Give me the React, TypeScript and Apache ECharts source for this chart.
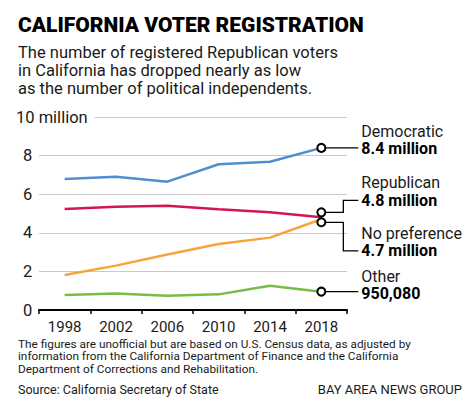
import React, { useEffect, useRef } from 'react';
import * as echarts from 'echarts';

const years = ['1998', '2002', '2006', '2010', '2014', '2018'];
const democratic = [6.79, 6.9, 6.65, 7.55, 7.68, 8.4];
const republican = [5.23, 5.35, 5.4, 5.22, 5.06, 4.8];
const noPreference = [1.81, 2.3, 2.88, 3.42, 3.75, 4.7];
const other = [0.78, 0.86, 0.74, 0.81, 1.26, 0.95];
const seriesNames = ['Democratic', 'Republican', 'No preference', 'Other'];
const endValueLabels = ['8.4 million', '4.8 million', '4.7 million', '950,080'];
const seriesColors = ['#4d8fcf', '#d5164c', '#f7a43c', '#76bd45'];
const yMin = 0;
const yMax = 10;
const yInterval = 2;
const yTopLabel = '10 million';

const titleText = 'CALIFORNIA VOTER REGISTRATION';
const subtitleText =
  'The number of registered Republican voters\nin California has dropped nearly as low\nas the number of political independents.';
const noteText =
  'The figures are unofficial but are based on U.S. Census data, as adjusted by\ninformation from the California Department of Finance and the California\nDepartment of Corrections and Rehabilitation.';
const sourceText = 'Source: California Secretary of State';
const creditText = 'BAY AREA NEWS GROUP';

const FONT = 'Roboto, "Liberation Sans", Arial, sans-serif';
const INK = '#1a1a1a';

export default function App() {
  const ref = useRef<HTMLDivElement>(null);

  useEffect(() => {
    if (!ref.current) return;
    const chart = echarts.init(ref.current, undefined, { renderer: 'svg' });
    const allData = [democratic, republican, noPreference, other];
    const markerOffsets = [[0, 0], [0, -5], [0, 3], [0, 0]];

    const series = allData.map((arr, si) => ({
      name: seriesNames[si],
      type: 'line',
      symbol: 'circle',
      symbolSize: 8,
      z: 2 + si,
      lineStyle: { color: seriesColors[si], width: 2.5 },
      itemStyle: { color: '#fff', borderColor: '#000', borderWidth: 2 },
      data: arr.map((v, i) =>
        i === arr.length - 1
          ? { value: v, symbol: 'circle', symbolOffset: markerOffsets[si], z: 10 }
          : { value: v, symbol: 'none' }
      ),
    }));

    chart.setOption({
      animation: false,
      backgroundColor: '#fff',
      textStyle: { fontFamily: FONT },
      grid: { left: 39, right: 127, top: 117, bottom: 106, containLabel: false },
      xAxis: {
        type: 'category',
        data: years,
        boundaryGap: true,
        axisLine: { show: true, lineStyle: { color: '#000', width: 2 } },
        axisTick: { show: true, length: 4, lineStyle: { color: '#000', width: 1.5 } },
        axisLabel: { color: INK, fontSize: 15, margin: 9, fontFamily: FONT },
        splitLine: { show: false },
      },
      yAxis: {
        type: 'value',
        min: yMin,
        max: yMax,
        interval: yInterval,
        axisLine: { show: false },
        axisTick: { show: false },
        splitLine: { show: true, lineStyle: { color: '#c9c9c9', width: 1 } },
        axisLabel: {
          align: 'left',
          margin: 23,
          fontSize: 16,
          color: INK,
          fontFamily: FONT,
          formatter: (v: number) => (v === yMax ? '{t|' + yTopLabel + '}' : '{d|' + v + '}'),
          rich: {
            t: { fontSize: 16.5, color: INK, fontFamily: FONT, backgroundColor: '#fff', padding: [2, 7, 2, 0] },
            d: { fontSize: 16.5, color: INK, fontFamily: FONT, padding: [0, 0, 0, 7] },
          },
        },
      },
      series,
    });

    const last = years.length - 1;
    const pts = allData.map((arr, si) => {
      const p = chart.convertToPixel({ gridIndex: 0 }, [years[last], arr[last]]) as number[];
      return [p[0] + markerOffsets[si][0], p[1] + markerOffsets[si][1]];
    });
    const mx = pts[0][0];
    const elbowX = mx + 22;
    const endX = mx + 37;
    const labelX = mx + 40;
    const valueYs = [pts[0][1] + 1, pts[1][1] - 12, pts[2][1] + 28.5, pts[3][1] + 2];
    const nameGap = 17.5;

    const connectors: any[] = [
      { type: 'polyline', shape: { points: [[mx + 4, pts[0][1]], [endX, pts[0][1]]] } },
      {
        type: 'polyline',
        shape: { points: [[mx + 4, pts[1][1]], [elbowX, pts[1][1]], [elbowX, valueYs[1]], [endX, valueYs[1]]] },
      },
      {
        type: 'polyline',
        shape: { points: [[mx + 4, pts[2][1]], [elbowX, pts[2][1]], [elbowX, valueYs[2]], [endX, valueYs[2]]] },
      },
      { type: 'polyline', shape: { points: [[mx + 4, pts[3][1]], [endX, pts[3][1]]] } },
    ].map((c) => ({ ...c, z: 1, style: { stroke: '#000', lineWidth: 1.3, fill: null } }));

    const labels: any[] = [];
    seriesNames.forEach((n, i) => {
      labels.push({
        type: 'text',
        x: labelX,
        y: valueYs[i] - nameGap,
        style: { text: n, fontSize: 16, fontFamily: FONT, fill: INK, verticalAlign: 'middle', align: 'left' },
      });
      labels.push({
        type: 'text',
        x: labelX,
        y: valueYs[i],
        style: {
          text: endValueLabels[i],
          fontSize: 16,
          fontWeight: 'bold',
          fontFamily: FONT,
          fill: '#000',
          verticalAlign: 'middle',
          align: 'left',
        },
      });
    });

    const texts: any[] = [
      {
        type: 'text',
        x: 18,
        y: 25,
        style: { text: titleText, fontSize: 21, fontWeight: 900, fontFamily: FONT, fill: '#000', verticalAlign: 'middle' },
      },
      {
        type: 'text',
        x: 18,
        y: 43.5,
        style: { text: subtitleText, fontSize: 16.5, lineHeight: 18, fontFamily: FONT, fill: INK, verticalAlign: 'top' },
      },
      {
        type: 'text',
        x: 18,
        y: 337.5,
        style: { text: noteText, fontSize: 11.8, lineHeight: 12.5, fontFamily: FONT, fill: INK, verticalAlign: 'top' },
      },
      {
        type: 'text',
        x: 18,
        y: 389,
        style: { text: sourceText, fontSize: 12.5, fontFamily: FONT, fill: INK, verticalAlign: 'middle' },
      },
      {
        type: 'text',
        x: 462,
        y: 389,
        style: { text: creditText, fontSize: 13, fontFamily: FONT, fill: INK, verticalAlign: 'middle', align: 'right' },
      },
    ];

    chart.setOption({ graphic: [...connectors, ...labels, ...texts] });

    return () => chart.dispose();
  }, []);

  return (
    <div
      ref={ref}
      style={{ position: 'absolute', left: 0, top: 0, width: 474, height: 416, background: '#fff' }}
    />
  );
}
